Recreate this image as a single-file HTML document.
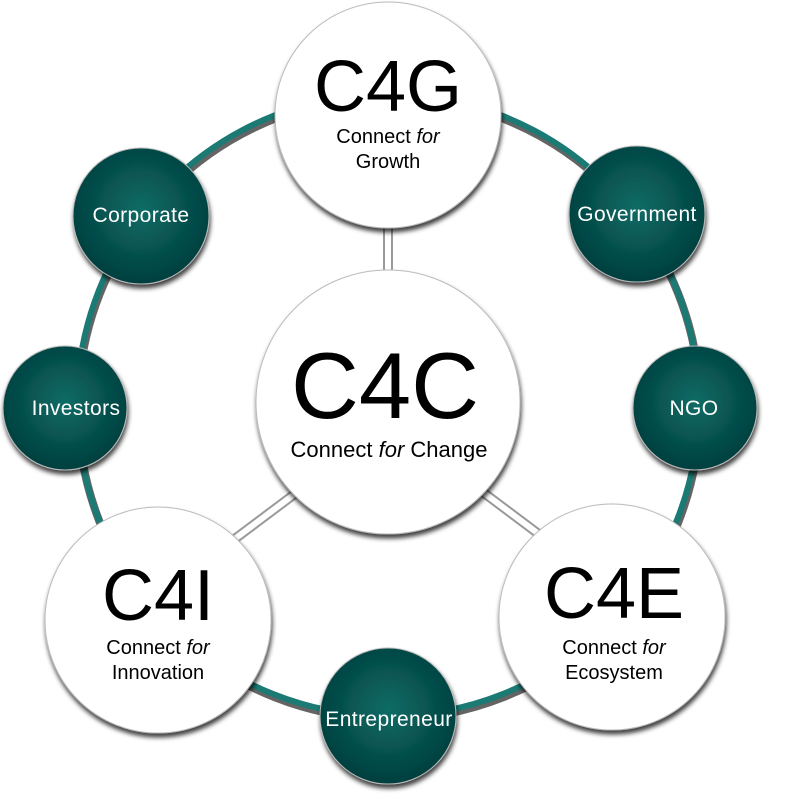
<!DOCTYPE html>
<html><head><meta charset="utf-8"><style>
body{margin:0;width:800px;height:801px;background:#fff;overflow:hidden}
svg{display:block}
text{font-family:"Liberation Sans",sans-serif}
</style></head><body>
<svg width="800" height="801" viewBox="0 0 800 801">
<defs>
<radialGradient id="tg" cx="50%" cy="45%" r="55%">
<stop offset="0" stop-color="#0b6c66"/><stop offset="1" stop-color="#033f3e"/>
</radialGradient>
<filter id="sh" x="-20%" y="-20%" width="140%" height="150%">
<feDropShadow dx="1" dy="4" stdDeviation="2.5" flood-color="#000" flood-opacity="0.75"/>
</filter>
</defs>
<circle cx="388" cy="405" r="311" fill="none" stroke="#222" stroke-width="8" transform="translate(1,3)" opacity="0.7"/>
<circle cx="388" cy="405" r="311" fill="none" stroke="#1b7a74" stroke-width="6"/>
<g stroke="#999" stroke-width="10"><line x1="388" y1="220" x2="388" y2="290"/><line x1="300" y1="490" x2="220" y2="550"/><line x1="480" y1="490" x2="560" y2="550"/></g>
<g stroke="#fff" stroke-width="6"><line x1="388" y1="220" x2="388" y2="290"/><line x1="300" y1="490" x2="220" y2="550"/><line x1="480" y1="490" x2="560" y2="550"/></g>
<g filter="url(#sh)" stroke="#bbb" stroke-width="1">
<circle cx="141" cy="216" r="68" fill="url(#tg)"/>
<circle cx="637" cy="214" r="68" fill="url(#tg)"/>
<circle cx="65" cy="408" r="62" fill="url(#tg)"/>
<circle cx="695" cy="408" r="62" fill="url(#tg)"/>
<circle cx="388" cy="716" r="68" fill="url(#tg)"/>
<circle cx="388" cy="115" r="113" fill="#fff"/>
<circle cx="388" cy="402" r="132" fill="#fff"/>
<circle cx="158" cy="620" r="113" fill="#fff"/>
<circle cx="612" cy="617" r="113" fill="#fff"/>
</g>
<g fill="#fff" font-size="21" text-anchor="middle" letter-spacing="0.4">
<text x="141" y="222">Corporate</text>
<text x="637" y="221">Government</text>
<text x="76" y="415">Investors</text>
<text x="694" y="415">NGO</text>
<text x="389" y="726">Entrepreneur</text>
</g>
<g fill="#000" text-anchor="middle">
<text x="388" y="111" font-size="72">C4G</text>
<text x="388" y="143" font-size="20">Connect <tspan font-style="italic">for</tspan></text>
<text x="388" y="168" font-size="20">Growth</text>
<text x="385" y="418" font-size="94">C4C</text>
<text x="389" y="457" font-size="22">Connect <tspan font-style="italic">for</tspan> Change</text>
<text x="158" y="620" font-size="72">C4I</text>
<text x="158" y="654" font-size="20">Connect <tspan font-style="italic">for</tspan></text>
<text x="158" y="679" font-size="20">Innovation</text>
<text x="614" y="618" font-size="72">C4E</text>
<text x="614" y="654" font-size="20">Connect <tspan font-style="italic">for</tspan></text>
<text x="614" y="679" font-size="20">Ecosystem</text>
</g>
</svg>
</body></html>
